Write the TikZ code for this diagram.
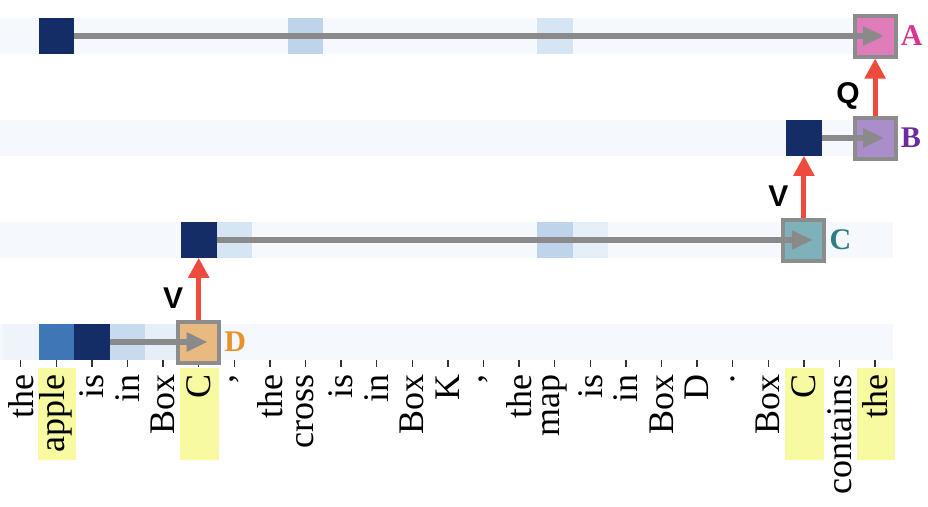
\documentclass[tikz,border=0pt]{standalone}
\usepackage{fontspec}
\setmainfont{Liberation Serif}
\setsansfont{Liberation Sans}
\usetikzlibrary{arrows.meta,positioning}

\definecolor{navy}{HTML}{142D66}
\definecolor{midblue}{HTML}{3F76B6}
\definecolor{lblue}{HTML}{C8DAEE}
\definecolor{sblue}{HTML}{BDD4EA}
\definecolor{pblue}{HTML}{D6E5F3}
\definecolor{fblue}{HTML}{E6EFF8}
\definecolor{rowbg}{HTML}{F5F8FD}
\definecolor{hl}{RGB}{247,250,160}
\definecolor{boxgray}{HTML}{8C8C8C}
\definecolor{flowgray}{HTML}{8A8A8A}
\definecolor{vecred}{HTML}{EE4B3E}
\definecolor{fillA}{HTML}{E07CBA}
\definecolor{fillB}{HTML}{A98ECB}
\definecolor{fillC}{HTML}{7FB1BB}
\definecolor{fillD}{HTML}{E9B982}
\definecolor{tagA}{HTML}{D9358F}
\definecolor{tagB}{HTML}{6E2B9E}
\definecolor{tagC}{HTML}{2E7C86}
\definecolor{tagD}{HTML}{E8922C}

\begin{document}
\begin{tikzpicture} [x=1pt,y=-1pt,
			cell/.style={minimum width=35.6pt,minimum height=35.5pt,inner sep=0pt,outer sep=0pt},
			qbox/.style={draw=boxgray,line width=4pt,minimum size=41pt,inner sep=0pt},
			token/.style={rotate=90,anchor=east,inner sep=2pt,font=\fontsize{36}{36}\selectfont},
			tag/.style={font=\fontsize{30}{30}\selectfont\bfseries,inner sep=1pt},
			op/.style={font=\fontsize{30}{30}\selectfont\sffamily\bfseries,inner sep=1pt},
			flow/.style={draw=flowgray,line width=6.5pt,-{Triangle[length=21pt,width=18pt]}},
			vec/.style={draw=vecred,line width=5pt,-{Triangle[length=20pt,width=20pt]}},
			tick/.style={draw=black!80,line width=1.3pt}
			]

		\useasboundingbox (0,0) rectangle (928,506);

		% rows and highlights
		\foreach \y in {36,138,240,342}
			\fill[rowbg] (0,\y-17.75) rectangle (893,\y+17.75);
		\foreach \i in {1,5,22,24}
			\fill[hl] ({20.7+35.6*\i-18.5},368) rectangle ++(38.5,92);

		% tokens
		\foreach \w [count=\i from 0] in {the,apple,is,in,Box,C,{,},the,cross,is,in,Box,K,{,},the,map,is,in,Box,D,.,Box,C,contains,the} {
			\draw[tick] ({20.7+35.6*\i},360) -- ++(0,7);
			\node [token] (w\i) at ({20.7+35.6*\i},372) {\w};
		}

		% attention cells
		\node [cell, fill=navy] (a1) at (56.3,36) {};
		\node [cell, fill=sblue] (a8) at (305.5,36) {};
		\node [cell, fill=pblue] (a15) at (554.7,36) {};
		\node [cell, fill=navy] (b22) at (803.9,138) {};
		\node [cell, fill=navy] (c5) at (198.7,240) {};
		\node [cell, fill=pblue] (c6) at (234.3,240) {};
		\node [cell, fill=sblue] (c15) at (554.7,240) {};
		\node [cell, fill=fblue] (c16) at (590.3,240) {};
		\node [cell, fill=rowbg!60!fblue] (d0) at (20.7,342) {};
		\node [cell, fill=midblue] (d1) at (56.3,342) {};
		\node [cell, fill=navy] (d2) at (91.9,342) {};
		\node [cell, fill=lblue] (d3) at (127.5,342) {};
		\node [cell, fill=fblue] (d4) at (163.1,342) {};

		% query boxes
		\node [qbox, fill=fillA, label={[tag, text=tagA, label distance=2pt]right:A}] (A) at (875.1,36) {};
		\node [qbox, fill=fillB, label={[tag, text=tagB, label distance=2pt]right:B}] (B) at (875.1,138) {};
		\node [qbox, fill=fillC, label={[tag, text=tagC, label distance=2pt]right:C}] (C) at (803.9,240) {};
		\node [qbox, fill=fillD, label={[tag, text=tagD, label distance=2pt]right:D}] (D) at (198.7,342) {};

		\draw [flow] (a1) -- ([xshift=9pt]A.center);
		\draw [flow] (b22) -- ([xshift=9pt]B.center);
		\draw [flow] (c5) -- ([xshift=9pt]C.center);
		\draw [flow] (d2) -- ([xshift=9pt]D.center);

		\draw [vec] (D) -- node [op, left=12pt, pos=0.35] {V} (c5);
		\draw [vec] (C) -- node [op, left=12pt, pos=0.35] {V} (b22);
		\draw [vec] (B) -- node [op, left=12pt, pos=0.35] {Q} (A);

		\end{tikzpicture}
\end{document}
